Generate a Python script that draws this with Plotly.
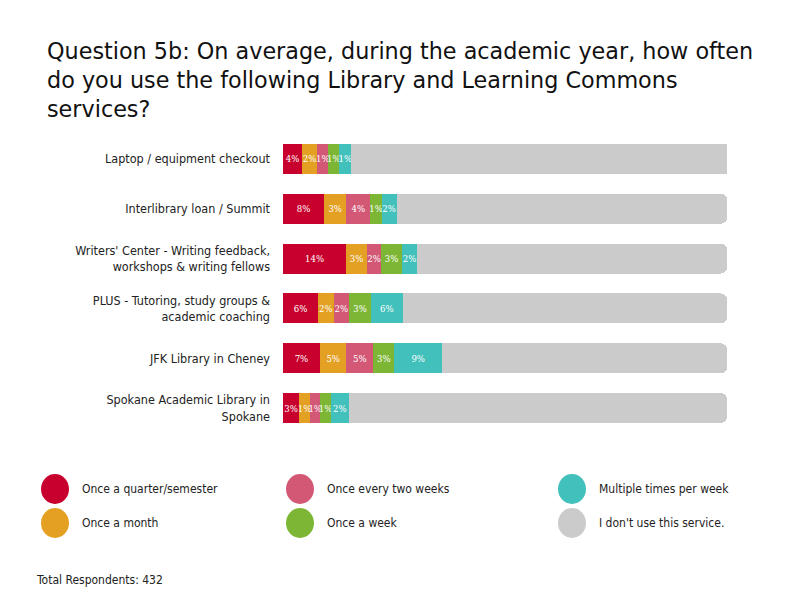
import plotly.graph_objects as go

categories = [
    "Laptop / equipment checkout",
    "Interlibrary loan / Summit",
    "Writers' Center - Writing feedback,<br>workshops & writing fellows",
    "PLUS - Tutoring, study groups &<br>academic coaching",
    "JFK Library in Cheney",
    "Spokane Academic Library in<br>Spokane",
]
series_names = [
    "Once a quarter/semester",
    "Once a month",
    "Once every two weeks",
    "Once a week",
    "Multiple times per week",
    "I don't use this service.",
]
# percentages printed on the segments
quarter_pct = [4, 8, 14, 6, 7, 3]
month_pct = [2, 3, 3, 2, 5, 1]
two_weeks_pct = [1, 4, 2, 2, 5, 1]
week_pct = [1, 1, 3, 3, 3, 1]
multiple_pct = [1, 2, 2, 6, 9, 2]

# segment lengths as drawn in the picture (share of the full bar, %)
quarter_len = [4.3, 9.3, 14.2, 7.9, 8.3, 3.6]
month_len = [3.4, 4.9, 4.7, 3.5, 6.0, 2.5]
two_weeks_len = [2.5, 5.5, 3.2, 3.5, 6.0, 2.3]
week_len = [2.5, 2.5, 4.7, 4.9, 4.8, 2.4]
multiple_len = [2.7, 3.4, 3.4, 7.2, 10.7, 4.0]
no_use_len = [85.6, 74.4, 69.8, 73.0, 64.2, 85.2]

colors = ["#C8002D", "#E3A022", "#D25876", "#7CB634", "#42C0BC", "#CBCBCB"]

lengths = [quarter_len, month_len, two_weeks_len, week_len, multiple_len, no_use_len]
labels = [quarter_pct, month_pct, two_weeks_pct, week_pct, multiple_pct, None]

# plot area in page pixels (page has an 8px body margin)
PX0, PX1, PY0, PY1 = 283, 727, 134, 433
OFF = 8
W, H = 792, 612


def px(x):
    return (x - PX0) / (PX1 - PX0)


def py(y):
    return (PY1 - y) / (PY1 - PY0)


fig = go.Figure()
for name, lens, labs, col in zip(series_names, lengths, labels, colors):
    fig.add_trace(go.Bar(
        y=categories, x=lens, name=name, orientation="h",
        marker=dict(color=col, line=dict(width=0)),
        text=[f"{v}%" for v in labs] if labs else None,
        textposition="inside" if labs else "none",
        insidetextanchor="middle",
        constraintext="none",
        textangle=0,
        textfont=dict(color="white", size=9.5, family="DejaVu Serif Condensed"),
        showlegend=False,
        hoverinfo="name",
    ))

fig.update_layout(
    width=W, height=H,
    barmode="stack", bargap=0.4, barcornerradius=6,
    paper_bgcolor="white", plot_bgcolor="white",
    margin=dict(l=PX0 - OFF, r=W - (PX1 - OFF), t=PY0 - OFF, b=H - (PY1 - OFF)),
    xaxis=dict(range=[0, 100], visible=False, fixedrange=True),
    yaxis=dict(autorange="reversed", showgrid=False, zeroline=False,
               showline=False, ticks="", ticklabelstandoff=12,
               tickfont=dict(size=12.5, color="#222", family="DejaVu Sans Condensed")),
    font=dict(family="DejaVu Sans"),
)

fig.add_annotation(
    text="Question 5b: On average, during the academic year, how often<br>do you use the following Library and Learning Commons<br>services?",
    xref="paper", yref="paper", x=px(45), y=py(36),
    xanchor="left", yanchor="top", align="left", showarrow=False,
    font=dict(size=22.3, color="#111", family="DejaVu Sans"),
)

legend_pos = [(55, 489), (55, 523), (300, 489), (300, 523), (572, 489), (572, 523)]
for (cx, cy), name, col in zip(legend_pos, series_names, colors):
    fig.add_shape(type="circle", xref="paper", yref="paper",
                  x0=px(cx - 14), x1=px(cx + 14),
                  y0=py(cy + 15), y1=py(cy - 15),
                  fillcolor=col, line=dict(width=0))
    fig.add_annotation(text=name, xref="paper", yref="paper",
                       x=px(cx + 25), y=py(cy),
                       xanchor="left", yanchor="middle", showarrow=False,
                       font=dict(size=12, color="#222", family="DejaVu Sans Condensed"))

fig.add_annotation(text="Total Respondents: 432", xref="paper", yref="paper",
                   x=px(34), y=py(580),
                   xanchor="left", yanchor="middle", showarrow=False,
                   font=dict(size=12, color="#222", family="DejaVu Sans Condensed"))

fig.write_html("out.html")
